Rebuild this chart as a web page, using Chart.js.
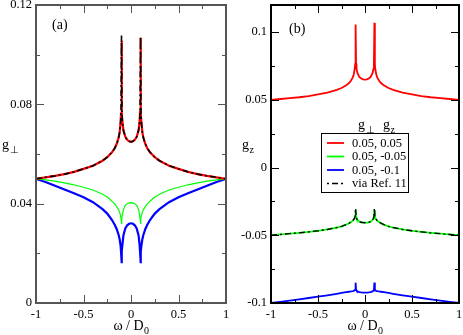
<!DOCTYPE html>
<html><head><meta charset="utf-8">
<script src="https://cdn.jsdelivr.net/npm/chart.js@4.4.0/dist/chart.umd.min.js"></script>
<style>
html,body{margin:0;padding:0;background:#fff;}
#wrap{position:relative;width:463px;height:335px;overflow:hidden;background:#fff;}
canvas{position:absolute;top:0;}
#ca{left:0;width:232px;height:335px;}
#cb{left:232px;width:231px;height:335px;}
</style></head><body>
<div id="wrap"><canvas id="ca" width="232" height="335"></canvas><canvas id="cb" width="231" height="335"></canvas></div>
<script>
// ---- data ----
const omega = [-1,-0.9,-0.8,-0.7,-0.6,-0.5,-0.4,-0.3,-0.25,-0.2,-0.17,-0.15,-0.13,-0.12,-0.11,-0.105,-0.1,-0.095,-0.09,-0.08,-0.06,-0.04,-0.02,0,
  0.02,0.04,0.06,0.08,0.09,0.095,0.1,0.105,0.11,0.12,0.13,0.15,0.17,0.2,0.25,0.3,0.4,0.5,0.6,0.7,0.8,0.9,1];

// panel (a): g_perp
const gPerpRed = [0.0500,0.0506,0.0512,0.0519,0.0528,0.0540,0.0553,0.0573,0.0587,0.0607,0.0624,0.0641,0.0666,0.0687,0.0724,0.0763,0.1056,0.0766,0.0728,0.0696,0.0669,0.0657,0.0651,0.0649,
  0.0651,0.0657,0.0669,0.0696,0.0728,0.0766,0.1068,0.0763,0.0724,0.0687,0.0666,0.0641,0.0624,0.0607,0.0587,0.0573,0.0553,0.0540,0.0528,0.0519,0.0512,0.0506,0.0500];
const gPerpGreen = [0.0500,0.0496,0.0491,0.0484,0.0476,0.0466,0.0455,0.0438,0.0427,0.0410,0.0398,0.0388,0.0375,0.0366,0.0351,0.0340,0.0318,0.0341,0.0356,0.0376,0.0393,0.0400,0.0403,0.0404,
  0.0403,0.0400,0.0393,0.0376,0.0356,0.0341,0.0318,0.0340,0.0351,0.0366,0.0375,0.0388,0.0398,0.0410,0.0427,0.0438,0.0455,0.0466,0.0476,0.0484,0.0491,0.0496,0.0500];
const gPerpBlue = [0.0500,0.0487,0.0472,0.0457,0.0442,0.0426,0.0406,0.0378,0.0360,0.0334,0.0314,0.0297,0.0274,0.0258,0.0232,0.0208,0.0160,0.0210,0.0236,0.0272,0.0300,0.0313,0.0319,0.0321,
  0.0319,0.0313,0.0300,0.0272,0.0236,0.0210,0.0160,0.0208,0.0232,0.0258,0.0274,0.0297,0.0314,0.0334,0.0360,0.0378,0.0406,0.0426,0.0442,0.0457,0.0472,0.0487,0.0500];
const gPerpRef = [0.0500,0.0506,0.0512,0.0519,0.0528,0.0540,0.0553,0.0573,0.0587,0.0607,0.0624,0.0641,0.0666,0.0687,0.0724,0.0763,0.1077,0.0766,0.0728,0.0696,0.0669,0.0657,0.0651,0.0649,
  0.0651,0.0657,0.0669,0.0696,0.0728,0.0766,0.1073,0.0763,0.0724,0.0687,0.0666,0.0641,0.0624,0.0607,0.0587,0.0573,0.0553,0.0540,0.0528,0.0519,0.0512,0.0506,0.0500];

// panel (b): g_z
const gzRed = gPerpRed;
const gzGreen = [-0.0500,-0.0494,-0.0488,-0.0482,-0.0475,-0.0467,-0.0457,-0.0443,-0.0434,-0.0421,-0.0411,-0.0403,-0.0392,-0.0384,-0.0372,-0.0362,-0.0313,-0.0363,-0.0374,-0.0387,-0.0399,-0.0404,-0.0406,-0.0407,
  -0.0406,-0.0404,-0.0399,-0.0387,-0.0374,-0.0363,-0.0313,-0.0362,-0.0372,-0.0384,-0.0392,-0.0403,-0.0411,-0.0421,-0.0434,-0.0443,-0.0457,-0.0467,-0.0475,-0.0482,-0.0488,-0.0494,-0.0500];
const gzBlue = [-0.1000,-0.0991,-0.0982,-0.0973,-0.0963,-0.0953,-0.0943,-0.0932,-0.0926,-0.0920,-0.0917,-0.0915,-0.0912,-0.0910,-0.0906,-0.0901,-0.0850,-0.0902,-0.0908,-0.0914,-0.0919,-0.0922,-0.0923,-0.0923,
  -0.0923,-0.0922,-0.0919,-0.0914,-0.0908,-0.0902,-0.0850,-0.0901,-0.0906,-0.0910,-0.0912,-0.0915,-0.0917,-0.0920,-0.0926,-0.0932,-0.0943,-0.0953,-0.0963,-0.0973,-0.0982,-0.0991,-0.1000];
const gzRef = [-0.0500,-0.0494,-0.0488,-0.0482,-0.0475,-0.0467,-0.0457,-0.0443,-0.0434,-0.0421,-0.0411,-0.0403,-0.0392,-0.0384,-0.0372,-0.0362,-0.0300,-0.0363,-0.0374,-0.0387,-0.0399,-0.0404,-0.0406,-0.0407,
  -0.0406,-0.0404,-0.0399,-0.0387,-0.0374,-0.0363,-0.0300,-0.0362,-0.0372,-0.0384,-0.0392,-0.0403,-0.0411,-0.0421,-0.0434,-0.0443,-0.0457,-0.0467,-0.0475,-0.0482,-0.0488,-0.0494,-0.0500];

const seriesLabels = ['0.05, 0.05','0.05, -0.05','0.05, -0.1','via Ref. 11'];

// ---- ticks ----
const xTicks = [-1,-0.5,0,0.5,1];
const xTickLabels = ['-1','-0.5','0','0.5','1'];
const xMinor = [-0.75,-0.25,0.25,0.75];
const aYTicks = [0,0.04,0.08,0.12];
const aYTickLabels = ['0','0.04','0.08','0.12'];
const aYMinor = [0.02,0.06,0.10];
const bYTicks = [-0.1,-0.05,0,0.05,0.1];
const bYTickLabels = ['-0.1','-0.05','0','0.05','0.1'];
const bYMinor = [-0.075,-0.025,0.025,0.075];

// ---- helpers ----
const FONT = '"Liberation Serif","Times New Roman",serif';
const pts = arr => omega.map((w,i)=>({x:w,y:arr[i]}));
function subText(ctx, base, sub, x, y, size, align){
  ctx.font = size+'px '+FONT;
  const wb = ctx.measureText(base).width;
  const ss = Math.round(size*0.72);
  ctx.font = ss+'px '+FONT;
  const ws = ctx.measureText(sub).width;
  const x0 = align==='center' ? x-(wb+ws)/2 : x;
  ctx.textAlign='left'; ctx.textBaseline='alphabetic'; ctx.fillStyle='#000';
  ctx.font = size+'px '+FONT; ctx.fillText(base, x0, y);
  ctx.font = ss+'px '+FONT; ctx.fillText(sub, x0+wb+0.5, y+size*0.3);
}

const framePlugin = {
  id:'frame',
  afterDatasetsDraw(chart, args, o){
    const {ctx, chartArea:a, scales:{x,y}} = chart;
    ctx.save();
    ctx.strokeStyle = o.color;
    ctx.lineWidth = 1;
    const tx = (v,len)=>{const p=Math.round(x.getPixelForValue(v))+0.5;
      ctx.beginPath(); ctx.moveTo(p,a.bottom); ctx.lineTo(p,a.bottom-len);
      ctx.moveTo(p,a.top); ctx.lineTo(p,a.top+len); ctx.stroke();};
    const ty = (v,len)=>{const p=Math.round(y.getPixelForValue(v))+0.5;
      ctx.beginPath(); ctx.moveTo(a.left,p); ctx.lineTo(a.left+len,p);
      ctx.moveTo(a.right,p); ctx.lineTo(a.right-len,p); ctx.stroke();};
    o.xMajor.forEach(v=>tx(v,8)); o.xMinor.forEach(v=>tx(v,4));
    o.yMajor.forEach(v=>ty(v,8)); o.yMinor.forEach(v=>ty(v,4));
    ctx.lineWidth = o.width;
    ctx.strokeRect(a.left, a.top, a.right-a.left, a.bottom-a.top);
    ctx.restore();
  },
  afterDraw(chart, args, o){
    const {ctx, chartArea:a} = chart;
    ctx.save();
    subText(ctx,'\u03C9 / D','0',(a.left+a.right)/2,330,14,'center');
    subText(ctx,o.yBase,o.ySub,o.yTitleX,149,14,'left');
    ctx.font='14px '+FONT; ctx.fillStyle='#000'; ctx.textAlign='left'; ctx.textBaseline='middle';
    ctx.fillText(o.panel, o.panelX, o.panelY);
    if(o.legend){
      const L=o.legend;
      subText(ctx,'g','\u22A5',L.x+37,129,14,'left');
      subText(ctx,'g','z',L.x+62,129,14,'left');
      ctx.strokeStyle='#000'; ctx.lineWidth=1;
      ctx.strokeRect(L.x+0.5,L.y+0.5,L.w,L.h);
      const ds = chart.data.datasets;
      ds.forEach((d,k)=>{
        const yy=L.y+10+k*13.5;
        ctx.save();
        ctx.strokeStyle=d.borderColor; ctx.lineWidth=d.borderWidth;
        ctx.setLineDash(d.borderDash?[2,3,6,3]:[]);
        ctx.beginPath(); ctx.moveTo(L.x+6,yy); ctx.lineTo(L.x+23,yy); ctx.stroke();
        ctx.restore();
        ctx.font='12.5px '+FONT; ctx.fillStyle='#000'; ctx.textAlign='left'; ctx.textBaseline='middle';
        ctx.fillText(seriesLabels[k], L.x+31, yy+0.5);
      });
    }
    ctx.restore();
  }
};

function makeChart(id, sets, yMin, yMax, yT, yTL, yMinorT, yWidth, padRight, frameOpts){
  return new Chart(document.getElementById(id), {
    type:'line',
    data:{datasets:sets},
    options:{
      responsive:false, animation:false, devicePixelRatio:1,
      layout:{padding:{top:5,right:padRight,bottom:0,left:0}},
      plugins:{legend:{display:false}, tooltip:{enabled:false}, frame:Object.assign({xMajor:xTicks,xMinor:xMinor,yMajor:yT,yMinor:yMinorT},frameOpts)},
      elements:{point:{radius:0}, line:{tension:0}},
      scales:{
        x:{type:'linear', min:-1, max:1,
          afterBuildTicks:s=>{s.ticks=xTicks.map(v=>({value:v}));},
          afterFit:s=>{s.height=32; s.paddingLeft=0; s.paddingRight=0;},
          grid:{display:false, drawTicks:false}, border:{display:false},
          ticks:{autoSkip:false, maxRotation:0, padding:4, color:'#000', font:{family:FONT,size:12.5},
            callback:(v,i)=>xTickLabels[i]}},
        y:{type:'linear', min:yMin, max:yMax,
          afterBuildTicks:s=>{s.ticks=yT.map(v=>({value:v}));},
          afterFit:s=>{s.width=yWidth; s.paddingTop=0; s.paddingBottom=0;},
          grid:{display:false, drawTicks:false}, border:{display:false},
          ticks:{autoSkip:false, padding:4, color:'#000', font:{family:FONT,size:12.5},
            callback:(v,i)=>yTL[i]}}
      }
    },
    plugins:[framePlugin]
  });
}

makeChart('ca', [
  {data:pts(gPerpRed), borderColor:'#ff0000', borderWidth:2.2, order:2},
  {data:pts(gPerpGreen), borderColor:'#00ff00', borderWidth:1.2, order:3},
  {data:pts(gPerpBlue), borderColor:'#0000ff', borderWidth:2.2, order:4},
  {data:pts(gPerpRef), borderColor:'#000000', borderWidth:1.6, borderDash:[6,3,2,3], order:1}
], 0, 0.12, aYTicks, aYTickLabels, aYMinor, 36, 6,
  {color:'#555', width:2, yBase:'g', ySub:'\u22A5', yTitleX:2, panel:'(a)', panelX:52, panelY:25});

makeChart('cb', [
  {data:pts(gzRed), borderColor:'#ff0000', borderWidth:1.8, order:2},
  {data:pts(gzGreen), borderColor:'#00ff00', borderWidth:1.8, order:3},
  {data:pts(gzBlue), borderColor:'#0000ff', borderWidth:1.8, order:4},
  {data:pts(gzRef), borderColor:'#000000', borderWidth:1.4, borderDash:[6,3,2,3], order:1}
], -0.1, 0.12, bYTicks, bYTickLabels, bYMinor, 39, 4,
  {color:'#000', width:2, yBase:'g', ySub:'z', yTitleX:10, panel:'(b)', panelX:57, panelY:29,
   legend:{x:89, y:133, w:87, h:59}});
</script>
</body></html>
